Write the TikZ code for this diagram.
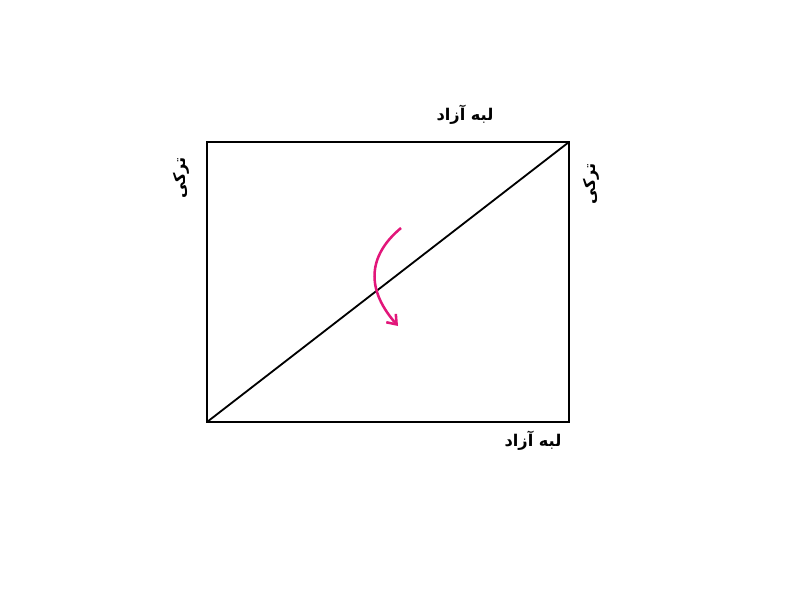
\documentclass[tikz,border=0pt]{standalone}
\usepackage{fontspec}
\newfontfamily\arabicfont[Script=Arabic]{DejaVu Sans}
\TeXXeTstate=1
\usetikzlibrary{arrows.meta}
\definecolor{twist}{RGB}{226,22,122}
\tikzset{edgelabel/.style={font=\arabicfont\bfseries\fontsize{11.5}{13}\selectfont, inner sep=0pt}}
\begin{document}
\begin{tikzpicture}[x=0.025cm, y=-0.025cm]
	\useasboundingbox (0,0) rectangle (800,600);
	\coordinate (A) at (207,422);
	\coordinate (B) at (569,422);
	\coordinate (C) at (569,142);
	\coordinate (D) at (207,142);
	\draw[line width=1.6pt] (A) -- (B) -- (C) -- (D) -- cycle;
	\draw[line width=1.3pt] (A) -- (C);
	
	\node[edgelabel] (topfree) at (465,115) {\beginR لبه آزاد\endR};
	\node[edgelabel] (botfree) at (533,441) {\beginR لبه آزاد\endR};
	\node[edgelabel, rotate=90] (leftsup) at (181,178) {\beginR ترکی\endR};
	\node[edgelabel, rotate=90] (rightsup) at (591,184) {\beginR ترکی\endR};
	
	\coordinate (s) at (401,228);
	\coordinate (e) at (398,326);
	\draw[twist, line width=1.8pt, -{Straight Barb[length=6pt,width=9pt]}] (s) .. controls (372,252) and (362,285) .. (e);
\end{tikzpicture}
\end{document}
